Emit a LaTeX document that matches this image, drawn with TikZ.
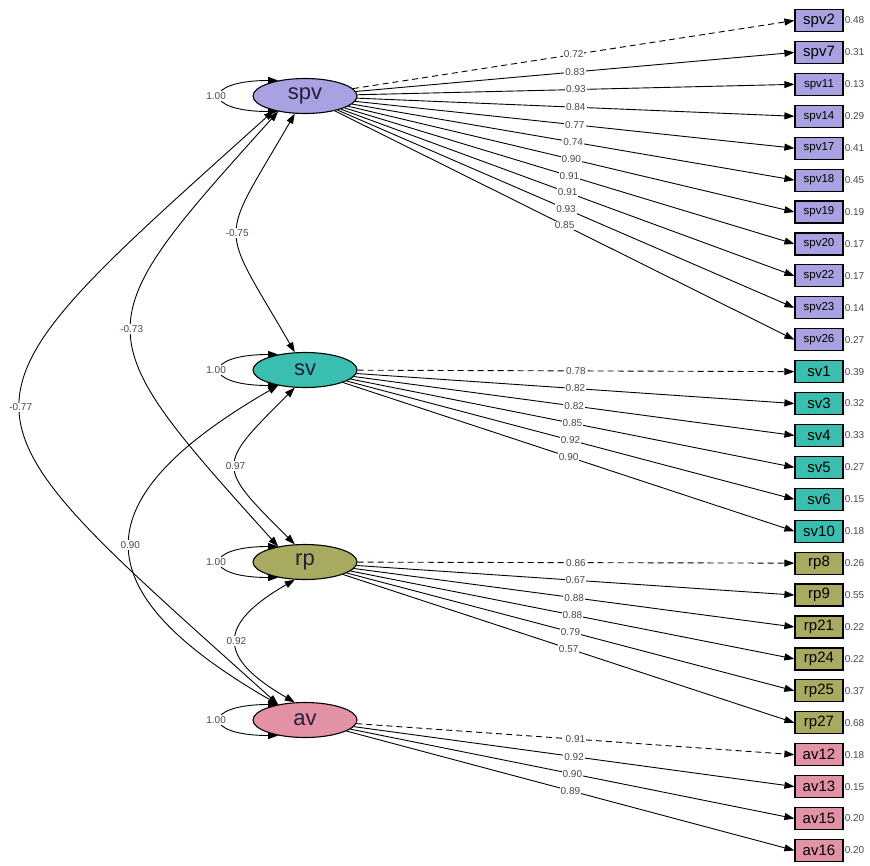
\documentclass[tikz,border=0pt]{standalone}
\usepackage{fontspec}
\setmainfont{Liberation Sans}
\usetikzlibrary{shapes,positioning,calc,arrows.meta}
\definecolor{spvc}{RGB}{168,162,226}
\definecolor{svc}{RGB}{58,190,176}
\definecolor{rpc}{RGB}{168,170,96}
\definecolor{avc}{RGB}{226,146,164}
\definecolor{lblc}{RGB}{70,70,90}

\begin{document}
\begin{tikzpicture}[
    x=1pt, y=1pt,
    latent/.style={ellipse, draw, line width=1.1pt, minimum width=104pt, minimum height=35pt,
        inner sep=0pt, text={rgb,255:red,40;green,30;blue,60}, font=\fontsize{22}{22}\selectfont},
    ind/.style={rectangle, draw, line width=1.2pt, minimum width=48pt, minimum height=22pt, inner sep=0pt},
    load/.style={-{Triangle[length=10pt,width=7pt]}, line width=0.9pt},
    cov/.style={{Triangle[length=10pt,width=7pt]}-{Triangle[length=10pt,width=7pt]}, line width=0.9pt},
    lbl/.style={fill=white, inner sep=1pt, text=lblc, font=\fontsize{10}{10}\selectfont}
]
    \useasboundingbox (0,0) rectangle (870,-865);

    \node[latent, fill=spvc] (spv) at (305,-96) {spv};
    \node[latent, fill=svc] (sv) at (305,-370) {sv};
    \node[latent, fill=rpc] (rp) at (305,-562) {rp};
    \node[latent, fill=avc] (av) at (305,-720) {av};

    \foreach \nm/\i/\c/\r/\fs in {spv2/0/spvc/0.48/15, spv7/1/spvc/0.31/15, spv11/2/spvc/0.13/11.5,
        spv14/3/spvc/0.29/11.5, spv17/4/spvc/0.41/11.5, spv18/5/spvc/0.45/11.5, spv19/6/spvc/0.19/11.5,
        spv20/7/spvc/0.17/11.5, spv22/8/spvc/0.17/11.5, spv23/9/spvc/0.14/11.5, spv26/10/spvc/0.27/11.5,
        sv1/11/svc/0.39/15, sv3/12/svc/0.32/15, sv4/13/svc/0.33/15, sv5/14/svc/0.27/15,
        sv6/15/svc/0.15/15, sv10/16/svc/0.18/15, rp8/17/rpc/0.26/15, rp9/18/rpc/0.55/15,
        rp21/19/rpc/0.22/15, rp24/20/rpc/0.22/15, rp25/21/rpc/0.37/15, rp27/22/rpc/0.68/15,
        av12/23/avc/0.18/15, av13/24/avc/0.15/15, av15/25/avc/0.20/15, av16/26/avc/0.20/15}
    {
        \node[ind, fill=\c, font=\fontsize{\fs}{\fs}\selectfont] (\nm) at (819,{-20.5-31.92*\i}) {\nm};
        \node[lbl, anchor=west, fill=none] (\nm-res) at (\nm.east) {\r};
    }

    % loadings
    \draw[load, dash pattern=on 6pt off 4pt] (spv) -- node[lbl] {0.72} (spv2.west);
    \foreach \nm/\v in {spv7/0.83, spv11/0.93, spv14/0.84, spv17/0.77, spv18/0.74, spv19/0.90,
        spv20/0.91, spv22/0.91, spv23/0.93, spv26/0.85}
        \draw[load] (spv) -- node[lbl] {\v} (\nm.west);

    \draw[load, dash pattern=on 6pt off 4pt] (sv) -- node[lbl] {0.78} (sv1.west);
    \foreach \nm/\v in {sv3/0.82, sv4/0.82, sv5/0.85, sv6/0.92, sv10/0.90}
        \draw[load] (sv) -- node[lbl] {\v} (\nm.west);

    \draw[load, dash pattern=on 6pt off 4pt] (rp) -- node[lbl] {0.86} (rp8.west);
    \foreach \nm/\v in {rp9/0.67, rp21/0.88, rp24/0.88, rp25/0.79, rp27/0.57}
        \draw[load] (rp) -- node[lbl] {\v} (\nm.west);

    \draw[load, dash pattern=on 6pt off 4pt] (av) -- node[lbl] {0.91} (av12.west);
    \foreach \nm/\v in {av13/0.92, av15/0.90, av16/0.89}
        \draw[load] (av) -- node[lbl] {\v} (\nm.west);

    % variances
    \foreach \lv in {spv, sv, rp, av}
        \draw[cov] (\lv.150) to[out=180, in=180, distance=76pt] node[lbl, xshift=-5pt] {1.00} (\lv.210);

    % covariances
    \draw[cov] (spv.240) to[out=240, in=120, looseness=1.65] node[lbl] {-0.75} (sv.120);
    \draw[cov] (spv.210) to[out=228, in=132, looseness=1.72] node[lbl] {-0.73} (rp.150);
    \draw[cov] (spv.205) to[out=222, in=138, looseness=1.97] node[lbl] {-0.77} (av.150);
    \draw[cov] (sv.240) to[out=225, in=135, looseness=1.83] node[lbl] {0.97} (rp.120);
    \draw[cov] (sv.210) to[out=210, in=150, looseness=1.83] node[lbl] {0.90} (av.150);
    \draw[cov] (rp.240) to[out=210, in=150, looseness=1.88] node[lbl] {0.92} (av.120);
\end{tikzpicture}
\end{document}
